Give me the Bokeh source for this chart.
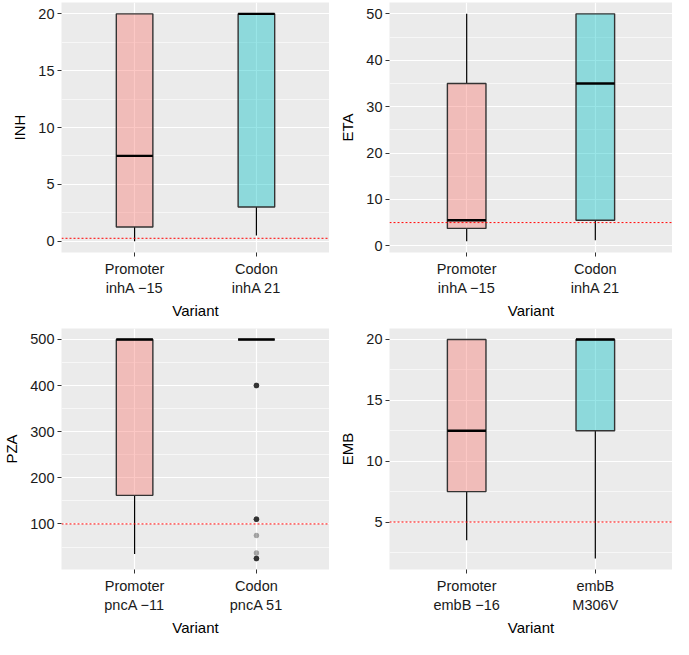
from bokeh.plotting import figure
from bokeh.models import Range1d, FixedTicker, Span
from bokeh.layouts import gridplot
from bokeh.embed import file_html
from bokeh.resources import INLINE

FONT = "Liberation Sans"
PINK = "#F8766D"
TEAL = "#00BFC4"

# ---------------- data ----------------
inh_labels = ["Promoter\ninhA \u221215", "Codon\ninhA 21"]
inh_low = [0.0, 0.5]
inh_q1 = [1.25, 3.0]
inh_med = [7.5, 20.0]
inh_q3 = [20.0, 20.0]
inh_high = [20.0, 20.0]
inh_threshold = 0.25
inh_ticks = [0, 5, 10, 15, 20]

eta_labels = ["Promoter\ninhA \u221215", "Codon\ninhA 21"]
eta_low = [1.0, 1.2]
eta_q1 = [3.75, 5.5]
eta_med = [5.5, 35.0]
eta_q3 = [35.0, 50.0]
eta_high = [50.0, 50.0]
eta_threshold = 5
eta_ticks = [0, 10, 20, 30, 40, 50]

pza_labels = ["Promoter\npncA \u221211", "Codon\npncA 51"]
pza_low = [35.0, 500.0]
pza_q1 = [162.0, 500.0]
pza_med = [500.0, 500.0]
pza_q3 = [500.0, 500.0]
pza_high = [500.0, 500.0]
pza_threshold = 100
pza_ticks = [100, 200, 300, 400, 500]
pza_outlier_group = [2, 2, 2, 2, 2, 2, 2, 2, 2, 2, 2, 2, 2, 2]
pza_outliers = [400, 400, 400, 400, 110, 110, 110, 110, 75, 37, 25, 25, 25, 25]

emb_labels = ["Promoter\nembB \u221216", "embB\nM306V"]
emb_low = [3.5, 2.0]
emb_q1 = [7.5, 12.5]
emb_med = [12.5, 20.0]
emb_q3 = [20.0, 20.0]
emb_high = [20.0, 20.0]
emb_threshold = 5
emb_ticks = [5, 10, 15, 20]

group_colors = [PINK, TEAL]


def make_panel(ylabel, labels, low, q1, med, q3, high, thr, ticks,
               width, height, left, bottom, out_x=None, out_y=None):
    xs = [1, 2]
    vals = low + high + (out_y or [])
    lo, hi = min(vals), max(vals)
    pad = (hi - lo) * 0.05
    step = ticks[1] - ticks[0]
    minor = [t - step / 2 for t in ticks] + [ticks[-1] + step / 2]
    p = figure(width=width, height=height, output_backend="svg",
               toolbar_location=None, x_range=Range1d(0.4, 2.6),
               y_range=Range1d(lo - pad, hi + pad),
               min_border_left=left, min_border_right=0,
               min_border_top=2, min_border_bottom=bottom)
    p.background_fill_color = "#EBEBEB"
    p.border_fill_color = "white"
    p.outline_line_color = None

    p.xaxis.ticker = FixedTicker(ticks=xs)
    p.xaxis.major_label_overrides = {1: labels[0], 2: labels[1]}
    p.yaxis.ticker = FixedTicker(ticks=ticks, minor_ticks=minor)
    p.xgrid.ticker = FixedTicker(ticks=xs)
    p.ygrid.ticker = FixedTicker(ticks=ticks, minor_ticks=minor)

    for g in (p.xgrid, p.ygrid):
        g.grid_line_color = "white"
        g.grid_line_width = 1.2
    p.ygrid.minor_grid_line_color = "white"
    p.ygrid.minor_grid_line_width = 0.6

    for ax in (p.xaxis, p.yaxis):
        ax.axis_line_color = None
        ax.major_tick_line_color = "#333333"
        ax.major_tick_line_width = 1
        ax.major_tick_out = 4
        ax.major_tick_in = 0
        ax.minor_tick_line_color = None
        ax.major_label_text_font = FONT
        ax.major_label_text_font_size = "14.5px"
        ax.major_label_text_color = "#1A1A1A"
        ax.axis_label_text_font = FONT
        ax.axis_label_text_font_size = "15px"
        ax.axis_label_text_font_style = "normal"
        ax.axis_label_text_color = "black"
    p.xaxis.axis_label = "Variant"
    p.yaxis.axis_label = ylabel
    p.xaxis.major_label_standoff = 4
    p.xaxis.axis_label_standoff = 3
    p.yaxis.major_label_standoff = 3
    p.yaxis.axis_label_standoff = 7

    # whiskers
    p.segment(x0=xs, y0=low, x1=xs, y1=q1, line_color="black", line_width=1.2)
    p.segment(x0=xs, y0=q3, x1=xs, y1=high, line_color="black", line_width=1.2)
    # boxes
    p.vbar(x=xs, bottom=q1, top=q3, width=0.3, fill_color=group_colors,
           fill_alpha=0.4, line_color="#333333", line_width=1.4)
    # medians
    p.segment(x0=[x - 0.15 for x in xs], y0=med, x1=[x + 0.15 for x in xs],
              y1=med, line_color="black", line_width=2.4)
    # outliers
    if out_y:
        p.scatter(x=out_x, y=out_y, size=5.5, fill_color="black",
                  line_color=None, fill_alpha=0.32)
    # threshold line
    p.add_layout(Span(location=thr, dimension="width", line_color="red",
                      line_width=1, line_dash="2 2"))
    return p


p1 = make_panel("INH", inh_labels, inh_low, inh_q1, inh_med, inh_q3, inh_high,
                inh_threshold, inh_ticks, 329, 326, 46, 74)
p2 = make_panel("ETA", eta_labels, eta_low, eta_q1, eta_med, eta_q3, eta_high,
                eta_threshold, eta_ticks, 343, 326, 60, 74)
p3 = make_panel("PZA", pza_labels, pza_low, pza_q1, pza_med, pza_q3, pza_high,
                pza_threshold, pza_ticks, 329, 312, 46, 60,
                out_x=pza_outlier_group, out_y=pza_outliers)
p4 = make_panel("EMB", emb_labels, emb_low, emb_q1, emb_med, emb_q3, emb_high,
                emb_threshold, emb_ticks, 343, 312, 60, 60)

layout = gridplot([[p1, p2], [p3, p4]], toolbar_location=None)
open("out.html", "w").write(file_html(layout, INLINE))
